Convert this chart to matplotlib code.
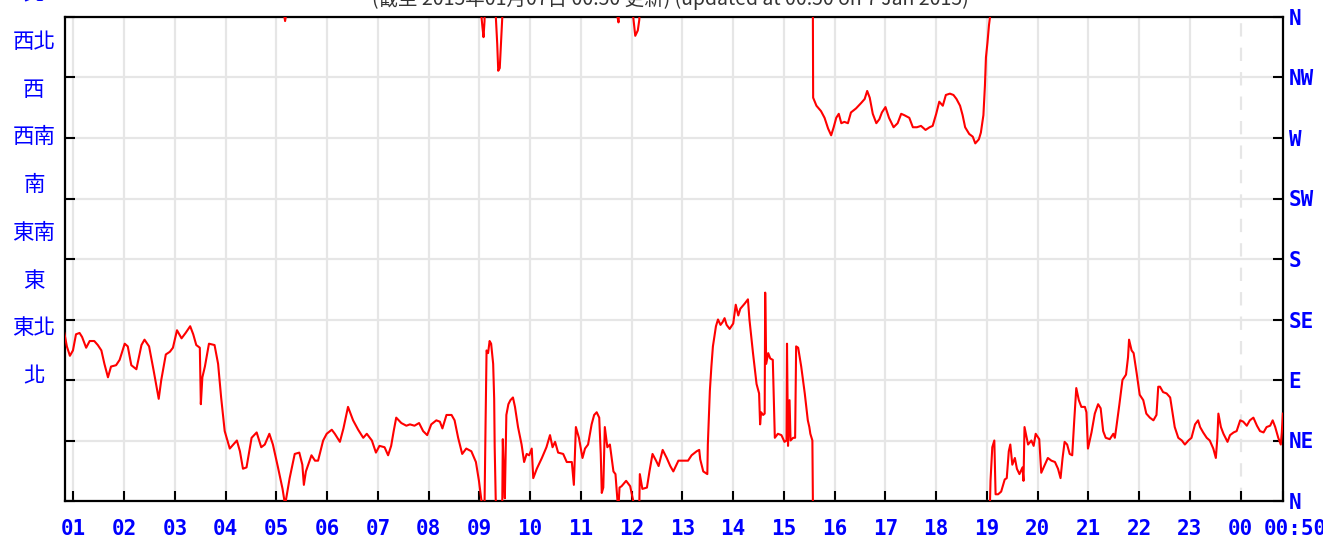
import numpy as np
import matplotlib
matplotlib.use("Agg")
from matplotlib import pyplot as plt
from matplotlib import transforms

# hours since midnight (00:50 -> 24:50 next day) and wind direction in degrees
# (directions kept unwrapped, negatives are just west of north)
hours = [
    0.82, 0.87, 0.93, 0.99, 1.05, 1.12, 1.17, 1.25, 1.32, 1.41, 1.48, 1.55,
    1.61, 1.68, 1.74, 1.84, 1.91, 2.01, 2.07, 2.14, 2.24, 2.34, 2.40, 2.49,
    2.58, 2.68, 2.73, 2.82, 2.90, 2.96, 3.04, 3.13, 3.21, 3.30, 3.36, 3.42,
    3.49, 3.51, 3.54, 3.59, 3.67, 3.78, 3.85, 3.91, 3.98, 4.08, 4.15, 4.22,
    4.28, 4.34, 4.41, 4.51, 4.61, 4.70, 4.77, 4.86, 4.93, 5.03, 5.12, 5.17,
    5.26, 5.36, 5.45, 5.51, 5.54, 5.58, 5.69, 5.76, 5.82, 5.92, 5.99, 6.09,
    6.15, 6.25, 6.32, 6.41, 6.51, 6.61, 6.71, 6.78, 6.88, 6.96, 7.03, 7.13,
    7.20, 7.26, 7.31, 7.36, 7.46, 7.56, 7.63, 7.72, 7.81, 7.89, 7.97, 8.05,
    8.15, 8.22, 8.27, 8.35, 8.45, 8.51, 8.58, 8.66, 8.74, 8.84, 8.93, 8.99,
    9.04, 9.06, 9.08, 9.10, 9.11, 9.12, 9.14, 9.17, 9.20, 9.23, 9.27, 9.29,
    9.30, 9.32, 9.35, 9.37, 9.40, 9.43, 9.45, 9.46, 9.48, 9.50, 9.53, 9.57,
    9.61, 9.66, 9.70, 9.76, 9.83, 9.88, 9.93, 9.98, 10.03, 10.06, 10.13,
    10.23, 10.32, 10.39, 10.44, 10.49, 10.55, 10.65, 10.72, 10.82, 10.86,
    10.90, 10.96, 11.03, 11.08, 11.14, 11.21, 11.26, 11.31, 11.36, 11.39,
    11.41, 11.44, 11.47, 11.52, 11.57, 11.64, 11.68, 11.72, 11.74, 11.76,
    11.80, 11.89, 11.97, 12.03, 12.07, 12.12, 12.15, 12.16, 12.21, 12.30,
    12.35, 12.41, 12.48, 12.53, 12.61, 12.69, 12.76, 12.82, 12.92, 13.02,
    13.11, 13.18, 13.28, 13.33, 13.35, 13.41, 13.49, 13.50, 13.54, 13.57,
    13.60, 13.66, 13.70, 13.75, 13.79, 13.83, 13.87, 13.93, 14.00, 14.05,
    14.10, 14.14, 14.23, 14.29, 14.32, 14.39, 14.46, 14.51, 14.53, 14.55,
    14.59, 14.62, 14.63, 14.65, 14.69, 14.73, 14.78, 14.82, 14.88, 14.95,
    15.01, 15.05, 15.06, 15.08, 15.11, 15.13, 15.18, 15.22, 15.24, 15.28,
    15.34, 15.41, 15.47, 15.50, 15.52, 15.56, 15.57, 15.575, 15.64, 15.73,
    15.80, 15.87, 15.93, 15.98, 16.03, 16.08, 16.13, 16.19, 16.26, 16.32,
    16.42, 16.52, 16.59, 16.64, 16.69, 16.75, 16.82, 16.88, 16.93, 17.00,
    17.07, 17.16, 17.24, 17.31, 17.37, 17.47, 17.54, 17.62, 17.70, 17.79,
    17.87, 17.93, 18.00, 18.06, 18.13, 18.19, 18.27, 18.34, 18.40, 18.47,
    18.52, 18.57, 18.65, 18.72, 18.77, 18.84, 18.88, 18.93, 18.96, 18.98,
    19.01, 19.04, 19.06, 19.07, 19.105, 19.145, 19.17, 19.22, 19.28, 19.35,
    19.39, 19.43, 19.46, 19.50, 19.55, 19.59, 19.64, 19.70, 19.72, 19.74,
    19.81, 19.875, 19.92, 19.96, 20.03, 20.07, 20.14, 20.20, 20.27, 20.34,
    20.40, 20.45, 20.49, 20.53, 20.58, 20.63, 20.68, 20.72, 20.76, 20.81,
    20.86, 20.93, 20.96, 20.99, 21.06, 21.125, 21.19, 21.24, 21.29, 21.34,
    21.42, 21.49, 21.52, 21.55, 21.61, 21.67, 21.74, 21.78, 21.80, 21.85,
    21.89, 21.95, 22.01, 22.08, 22.14, 22.21, 22.28, 22.34, 22.375, 22.41,
    22.47, 22.54, 22.61, 22.66, 22.70, 22.77, 22.84, 22.90, 22.97, 23.03,
    23.10, 23.16, 23.20, 23.26, 23.33, 23.39, 23.46, 23.51, 23.54, 23.56,
    23.61, 23.66, 23.74, 23.79, 23.86, 23.92, 23.99, 24.05, 24.12, 24.18,
    24.25, 24.32, 24.38, 24.45, 24.51, 24.58, 24.63, 24.68, 24.74, 24.79,
    24.81, 24.83,
]
direction = [
    125, 115, 108, 112, 124, 125, 122, 114, 119, 119, 116, 112,
    102, 92, 100, 101, 105, 117, 115, 101, 98, 116, 120, 115,
    97, 76, 90, 109, 111, 114, 127, 121, 125, 130, 124, 116,
    114, 72, 92, 100, 117, 116, 102, 77, 52, 39, 42, 45,
    37, 24, 25, 47, 51, 40, 42, 50, 42, 25, 9, -3,
    17, 35, 36, 27, 12, 22, 34, 30, 30, 45, 50, 53,
    50, 44, 54, 70, 60, 53, 47, 50, 45, 36, 41, 40,
    34, 41, 52, 62, 58, 56, 57, 56, 58, 52, 49, 57,
    60, 59, 54, 64, 64, 60, 47, 35, 39, 37, 29, 15,
    0, -8, -15, -3, 30, 57, 112, 110, 119, 117, 102, 76,
    40, 2, -20, -40, -38, -15, 0, 46, 20, 2, 64, 72,
    75, 77, 70, 55, 42, 29, 35, 34, 39, 17, 24,
    32, 40, 49, 40, 44, 36, 35, 29, 29, 12,
    55, 47, 32, 39, 42, 57, 64, 66, 62, 35,
    6, 10, 55, 40, 42, 22, 20, 0, -4, 10,
    11, 15, 11, 0, -14, -10, -2, 20, 9, 10,
    22, 35, 30, 26, 38, 32, 26, 22, 30, 30,
    30, 34, 37, 38, 31, 22, 20, 42, 82, 100,
    115, 130, 135, 131, 133, 136, 131, 128, 132, 146,
    138, 143, 147, 150, 135, 110, 87, 80, 57, 66,
    64, 65, 155, 102, 110, 106, 105, 47, 50, 49,
    44, 45, 117, 41, 75, 45, 47, 47, 115, 114,
    100, 80, 60, 55, 50, 45, 0, -60, -66, -70,
    -75, -83, -88, -82, -75, -72, -79, -78, -79, -71,
    -68, -64, -61, -55, -60, -72, -79, -76, -71, -67,
    -75, -82, -79, -72, -73, -75, -82, -82, -81, -84,
    -82, -81, -72, -63, -66, -58, -57, -58, -61, -66,
    -73, -82, -87, -89, -94, -91, -86, -73, -51, -30,
    -19, -6, 0, 15, 40, 45, 5, 5, 7, 16,
    17, 37, 42, 27, 32, 24, 20, 25, 15, 55,
    42, 45, 41, 50, 46, 21, 27, 32, 30, 29,
    24, 17, 32, 44, 42, 35, 34, 60, 84, 75,
    70, 70, 66, 39, 51, 65, 72, 69, 52, 47,
    46, 50, 47, 55, 72, 90, 94, 107, 120, 112,
    110, 95, 79, 75, 65, 62, 60, 64, 85, 85,
    81, 80, 77, 65, 55, 47, 45, 42, 45, 47,
    57, 60, 55, 51, 47, 45, 39, 32, 47, 65,
    55, 50, 44, 49, 51, 52, 60, 59, 56, 60,
    62, 56, 52, 51, 55, 56, 60, 55, 47, 42,
    51, 65,
]

hour_ticks = list(range(1, 25)) + [24 + 50 / 60]
hour_labels = ["%02d" % (h % 24) for h in range(1, 25)] + ["00:50"]
dir_ticks = [0, 45, 90, 135, 180, 225, 270, 315, 360]
dir_labels = ["N", "NE", "E", "SE", "S", "SW", "W", "NW", "N"]
zh_labels = ["北", "西北", "西", "西南", "南", "東南", "東", "東北", "北"]
title = "(截至 2015年01月07日 00:50 更新) (updated at 00:50 on 7 Jan 2015)"

BLUE = "#0000ff"


def main():
    fig = plt.figure(figsize=(13.23, 5.45), dpi=100)
    ax = fig.add_axes([65 / 1323, 1 - 501 / 545, 1218 / 1323, 484 / 545])

    t = np.array(hours)
    d = np.array(direction, dtype=float)
    # draw the trace plus its copy shifted by a full turn, so crossings of
    # north run off one edge and come back from the other
    for shift in (0, 360):
        ax.plot(t, d + shift, color="#ff0000", lw=1.5, zorder=3)

    ax.set_xlim(50 / 60, 24 + 50 / 60)
    ax.set_ylim(0, 360)

    ax.set_xticks(hour_ticks)
    ax.set_xticklabels(hour_labels)
    ax.set_yticks(dir_ticks)
    ax.set_yticklabels(dir_labels)

    ax.grid(True, color="#e6e6e6", lw=1.6, zorder=0)
    xgl = ax.get_xgridlines()
    xgl[23].set_linestyle((0, (6, 5)))
    xgl[24].set_visible(False)

    ax.tick_params(axis="both", direction="in", length=7, width=1.5,
                   color="black", top=False, right=True, left=True,
                   labelleft=False, labelright=True, labelcolor=BLUE)
    ax.tick_params(axis="x", pad=13)
    ax.tick_params(axis="y", pad=4)
    for lab in ax.get_xticklabels() + ax.get_yticklabels():
        lab.set_fontfamily("DejaVu Sans Mono")
        lab.set_fontweight("bold")
        lab.set_fontsize(15)
    # the end-time label sits a little right of the last tick
    last = ax.get_xticklabels()[-1]
    last.set_transform(last.get_transform() +
                       transforms.ScaledTranslation(0.12, 0, fig.dpi_scale_trans))
    for s in ax.spines.values():
        s.set_linewidth(1.6)
        s.set_color("black")

    # chinese direction names on the left
    trans = transforms.blended_transform_factory(fig.transFigure, ax.transData)
    for i, lab in enumerate(zh_labels):
        ax.text(34 / 1323, 377 - 35.5 * i, lab, transform=trans,
                ha="center", va="center", color=BLUE, fontsize=15.5,
                family=["Noto Sans CJK TC", "DejaVu Sans"], clip_on=False)

    fig.text(670 / 1323, 1 - 5 / 545, title, ha="center", va="baseline",
             fontsize=14, color="#333333",
             family=["Noto Sans CJK TC", "DejaVu Sans"])

    fig.savefig("out.png", dpi=100)


if __name__ == "__main__":
    main()
